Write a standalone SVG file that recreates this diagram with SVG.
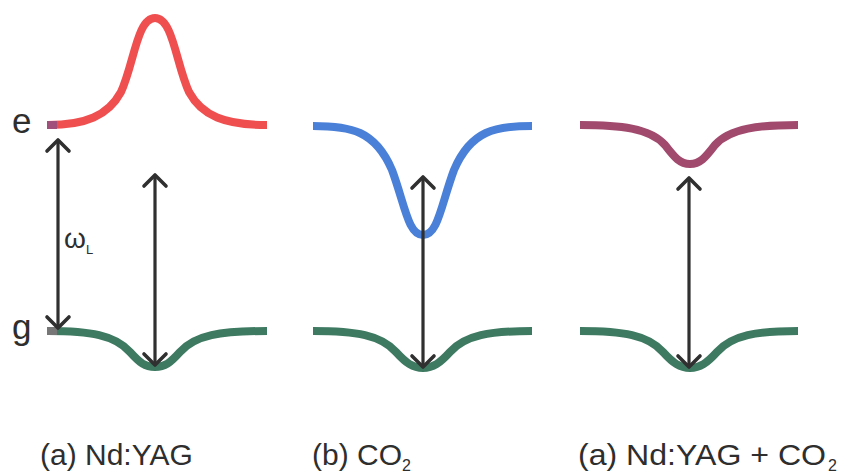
<svg xmlns="http://www.w3.org/2000/svg" width="843" height="475" viewBox="0 0 843 475">
<style>
.lvl{fill:none;stroke-width:8;stroke-linecap:butt}
.g{stroke:#3e7a62}
.arr{stroke:#303030;stroke-width:3.2;fill:none;marker-start:url(#hd);marker-end:url(#hd)}
.t{font-family:"Liberation Sans",Arial,sans-serif;fill:#2e2e2e}
</style>
<defs>
<marker id="hd" viewBox="-15 -15 30 30" refX="0" refY="0" markerWidth="30" markerHeight="30" markerUnits="userSpaceOnUse" orient="auto-start-reverse">
<path d="M-11,-11 L0,0 L-11,11" fill="none" stroke="#303030" stroke-width="3.6" stroke-linecap="round" stroke-linejoin="round"/>
</marker>
</defs>
<rect width="843" height="475" fill="#ffffff"/>
<g id="axis-labels">
<text class="t" x="12" y="133" font-size="35">e</text>
<text class="t" x="12" y="339" font-size="35">g</text>
</g>
<g id="panel-a">
<path class="lvl" stroke="#f04f50" d="M48,125 C85,125 108,116 121,92 C134,64 137,18 155,18 C173,18 176,64 189,92 C202,116 225,125 267,125"/>
<rect x="47" y="121" width="10" height="8" fill="#a0507a"/>
<path class="lvl g" d="M48,331 C90,331 115,335 130,352 C140,363 145,367 155,367 C165,367 170,363 180,352 C195,335 220,331 267,331"/>
<rect x="47" y="327" width="10" height="8" fill="#777777"/>
<text class="t" x="64" y="248" font-size="28">ω<tspan font-size="13" dy="6">L</tspan></text>
<text class="t" x="40" y="465" font-size="30">(a) Nd:YAG</text>
</g>
<g id="panel-b">
<path class="lvl" stroke="#4a80d8" d="M313,126 C350,126 375,130 392,170 C405,205 408,235 423,235 C438,235 441,205 454,170 C471,130 496,126 532,126"/>
<path class="lvl g" d="M313,331 C356,331 381,335 396,352 C406,363 413,368 423,368 C433,368 440,363 450,352 C465,335 490,331 532,331"/>
<text class="t" x="312" y="465" font-size="30">(b) CO<tspan font-size="16" dy="6">2</tspan></text>
</g>
<g id="panel-c">
<path class="lvl" stroke="#a14a6e" d="M580,125 C620,125 650,128 665,145 C675,158 680,164 690,164 C700,164 705,158 715,145 C730,128 760,125 798,125"/>
<path class="lvl g" d="M580,331 C623,331 648,335 663,352 C673,363 680,368 690,368 C700,368 707,363 717,352 C732,335 757,331 798,331"/>
<text class="t" x="578" y="465" font-size="30" textLength="248" lengthAdjust="spacingAndGlyphs">(a) Nd:YAG + CO</text>
<text class="t" x="828" y="471" font-size="16">2</text>
</g>
<g id="connectors">
<line class="arr" x1="58" y1="140" x2="58" y2="328"/>
<line class="arr" x1="155" y1="175" x2="155" y2="365"/>
<line class="arr" x1="423" y1="177" x2="423" y2="367"/>
<line class="arr" x1="689" y1="178" x2="689" y2="367"/>
</g>
</svg>
